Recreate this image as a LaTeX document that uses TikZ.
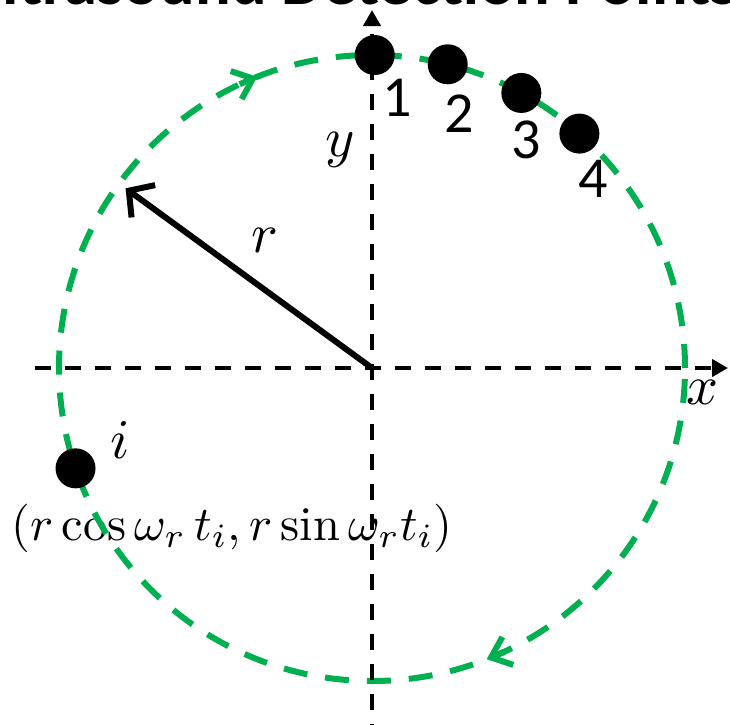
\documentclass[tikz,border=0pt]{standalone}
\usepackage{graphicx}
\usepackage{fontspec}
\newfontfamily\calib{Carlito}
\definecolor{ringgreen}{RGB}{0,176,80}
\usetikzlibrary{arrows.meta,calc}
\tikzset{
  axisline/.style={draw=black, line width=4.5pt, dash pattern=on 16pt off 14pt, -{Triangle[length=16pt,width=17pt]}},
  orbit/.style={draw=ringgreen, line width=6pt, dash pattern=on 24pt off 18pt},
  orbitarrow/.style={draw=ringgreen, line width=6pt, -{Straight Barb[length=18pt,width=30pt]}},
  dot/.style={circle, fill=black, minimum size=40pt, inner sep=0pt},
  numlabel/.style={font=\calib\fontsize{58}{58}\selectfont, inner sep=0pt},
  mathlabel/.style={inner sep=0pt}
}
\newcommand{\bigmath}[2]{\scalebox{#1}{$#2$}}

\begin{document}
\begin{tikzpicture}[x=1pt,y=1pt]
  \useasboundingbox (-372,-356) rectangle (358,368);

  % Title
  \node[font=\calib\fontsize{66.5}{66.5}\selectfont\bfseries, anchor=base] (title) at (-24,363) {Ultrasound Detection Points};

  % Labels
  \node[mathlabel] (ylab) at (-32,218) {\bigmath{5.6}{y}};
  \node[mathlabel] (xlab) at (330,-24) {\bigmath{5.6}{x}};
  \node[mathlabel] (rlab) at (-107,128) {\bigmath{5.6}{r}};
  \node[mathlabel] (ilab) at (-252,-72) {\bigmath{5.6}{i}};
  \node[mathlabel] (coord) at (-140,-160) {\bigmath{4.85}{(r\cos\omega_r\,t_i, r\sin\omega_r t_i)}};

  % Orbit, run clockwise
  \coordinate (o) at (0,0);
  \draw[orbit] (o) circle (313);
  \draw[orbitarrow] (115:313) arc[start angle=115, end angle=111.5, radius=313];
  \draw[orbitarrow] (-65:313) arc[start angle=-65, end angle=-68.5, radius=313];

  % Axes
  \coordinate (xstart) at (-337,0);
  \coordinate (xend) at (356,0);
  \coordinate (ystart) at (0,-372);
  \coordinate (yend) at (0,358);
  \draw[axisline] (xstart) -- (xend);
  \draw[axisline] (ystart) -- (yend);

  % Radius
  \coordinate (rtip) at (143.9:305);
  \draw[line width=6pt, -{Straight Barb[length=18pt,width=40pt]}] (o) -- (rtip);

  % Detection points
  \node[dot] (p1) at (89.5:313) {};
  \node[dot] (p2) at (76:313) {};
  \node[dot] (p3) at (61.5:313) {};
  \node[dot] (p4) at (48.5:313) {};
  \node[dot] (pi) at (198.7:313) {};
  \node[numlabel] (n1) at (25,270) {1};
  \node[numlabel] (n2) at (87,254) {2};
  \node[numlabel] (n3) at (154,228) {3};
  \node[numlabel] (n4) at (221,189) {4};
\end{tikzpicture}
\end{document}
